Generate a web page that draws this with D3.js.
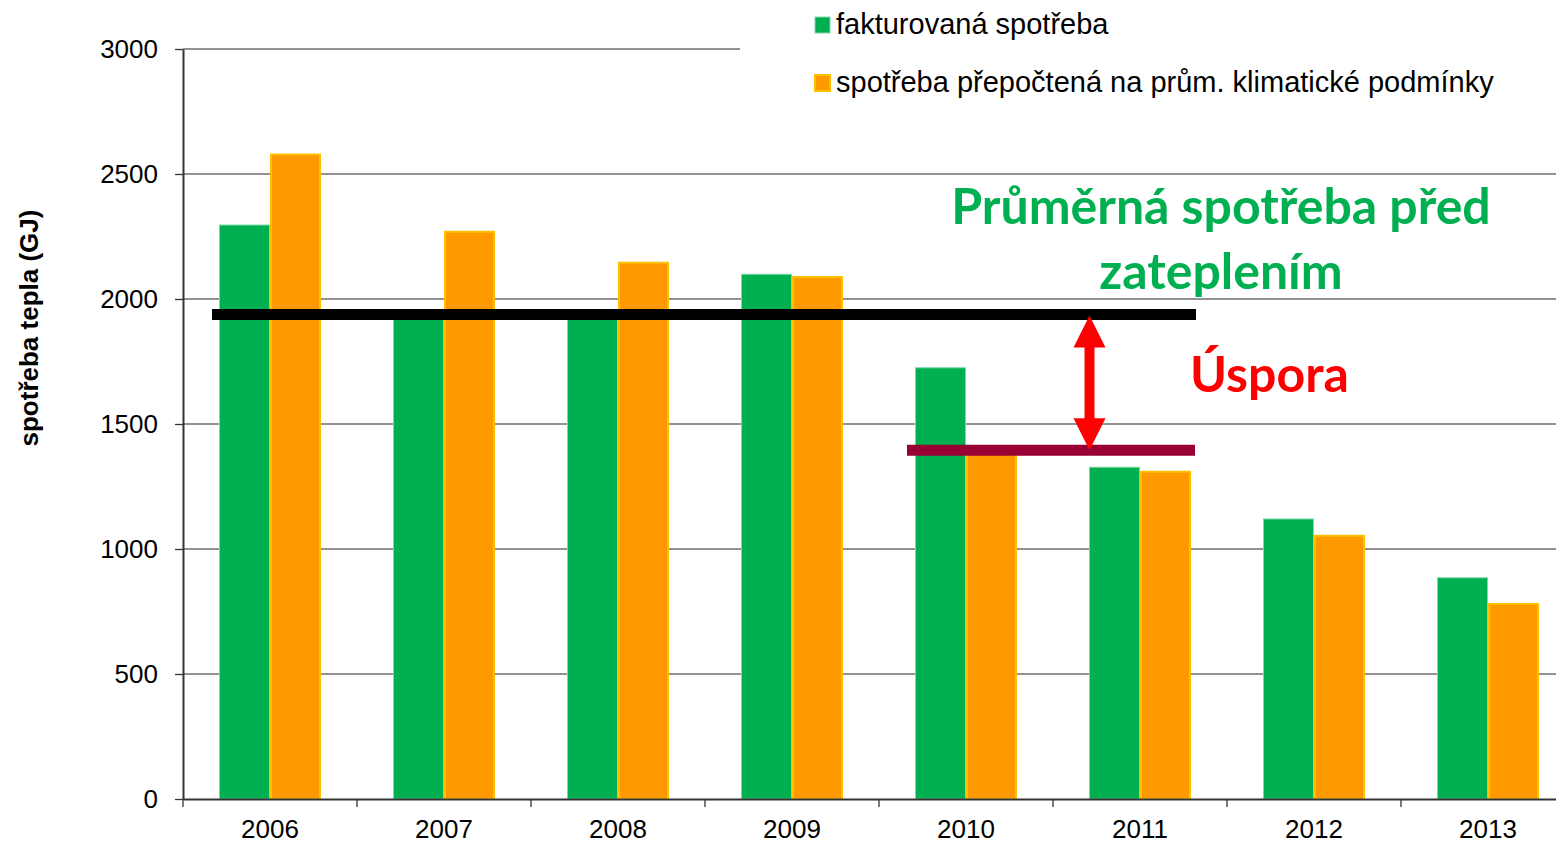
<!DOCTYPE html>
<html>
<head>
<meta charset="utf-8">
<script src="https://cdn.jsdelivr.net/npm/d3@7"></script>
<style>
  body { margin: 0; background: #fff; }
  svg { display: block; font-family: "Liberation Sans", Arial, sans-serif; }
</style>
</head>
<body>
<div id="chart"></div>
<script>
const years = ["2006", "2007", "2008", "2009", "2010", "2011", "2012", "2013"];
const billed = [2296, 1950, 1945, 2099, 1725, 1327, 1120, 885];
const normalized = [2578, 2269, 2145, 2088, 1385, 1309, 1053, 780];
const seriesNames = ["fakturovaná spotřeba", "spotřeba přepočtená na prům. klimatické podmínky"];
const yTicks = [0, 500, 1000, 1500, 2000, 2500, 3000];
const avgBefore = 1938;
const avgAfter = 1395;

const width = 1556, height = 843;
const plotLeft = 183, plotRight = 1575, plotTop = 49, plotBottom = 799;
const axisFont = "Liberation Sans, Arial, sans-serif";

const svg = d3.select("#chart").append("svg")
  .attr("width", width)
  .attr("height", height);

const x = d3.scaleBand().domain(years).range([plotLeft, plotRight]).padding(0);
const sub = d3.scaleBand().domain([0, 1]).range([0, x.bandwidth()])
  .paddingInner(0).paddingOuter(0.706);
const y = d3.scaleLinear().domain([0, 3000]).range([plotBottom, plotTop]);

const fills = ["#00B050", "#FF9900"];
const strokes = ["#7fd8a7", "#FFC000"];

// gridlines
svg.append("g")
  .selectAll("line")
  .data(yTicks.filter(d => d > 0))
  .enter().append("line")
  .attr("x1", plotLeft)
  .attr("x2", width)
  .attr("y1", d => y(d))
  .attr("y2", d => y(d))
  .attr("stroke", "#6e6e6e")
  .attr("stroke-width", 1.3);

// legend backdrop hides the top gridline like in the original
svg.append("rect")
  .attr("x", 740).attr("y", 0)
  .attr("width", width - 740).attr("height", 110)
  .attr("fill", "#fff");

// bars
const rows = years.map((yr, i) => ({ year: yr, values: [billed[i], normalized[i]] }));
const groups = svg.append("g").selectAll("g")
  .data(rows)
  .enter().append("g")
  .attr("transform", d => "translate(" + x(d.year) + ",0)");

groups.selectAll("rect")
  .data(d => d.values.map((v, k) => ({ k: k, v: v })))
  .enter().append("rect")
  .attr("x", d => sub(d.k) + (d.k === 1 ? 1 : 0.5))
  .attr("y", d => y(d.v))
  .attr("width", d => sub.bandwidth() - (d.k === 1 ? 2 : 1))
  .attr("height", d => y(0) - y(d.v))
  .attr("fill", d => fills[d.k])
  .attr("stroke", d => strokes[d.k])
  .attr("stroke-width", d => d.k === 1 ? 2 : 1);

// y axis
const yAxis = svg.append("g")
  .attr("transform", "translate(" + plotLeft + ",0)")
  .call(d3.axisLeft(y).tickValues(yTicks).tickFormat(d3.format("d"))
    .tickSize(8).tickSizeOuter(0).tickPadding(17));
yAxis.select(".domain").attr("stroke", "#333").attr("stroke-width", 2);
yAxis.selectAll(".tick line").attr("stroke", "#333").attr("stroke-width", 1.3);
yAxis.selectAll("text").attr("font-size", 26).attr("fill", "#000")
  .attr("font-family", axisFont);

// x axis
const xAxis = svg.append("g")
  .attr("transform", "translate(0," + plotBottom + ")")
  .call(d3.axisBottom(x).tickSize(0).tickPadding(21));
xAxis.select(".domain").attr("stroke", "#333").attr("stroke-width", 2);
xAxis.selectAll("text").attr("font-size", 26).attr("fill", "#000")
  .attr("font-family", axisFont);
xAxis.selectAll(".sep")
  .data(years)
  .enter().append("line")
  .attr("class", "sep")
  .attr("x1", d => x(d)).attr("x2", d => x(d))
  .attr("y1", 0).attr("y2", 8)
  .attr("stroke", "#333").attr("stroke-width", 1.3);

// y axis title
svg.append("text")
  .attr("transform", "translate(38,328) rotate(-90)")
  .attr("text-anchor", "middle")
  .attr("font-size", 26)
  .attr("font-weight", "bold")
  .text("spotřeba tepla (GJ)");

// average lines
svg.append("line")
  .attr("x1", 212).attr("x2", 1196)
  .attr("y1", y(avgBefore)).attr("y2", y(avgBefore))
  .attr("stroke", "#000").attr("stroke-width", 11);
svg.append("line")
  .attr("x1", 907).attr("x2", 1195)
  .attr("y1", y(avgAfter)).attr("y2", y(avgAfter))
  .attr("stroke", "#990033").attr("stroke-width", 11);

// double arrow between the two averages
const ax = 1089.5;
const yTop = y(avgBefore) + 1, yBot = y(avgAfter);
const head = 32, shaft = 10;
svg.append("path")
  .attr("fill", "#FF0000")
  .attr("d", [
    "M", ax, yTop,
    "L", ax + head / 2, yTop + head,
    "L", ax + shaft / 2, yTop + head,
    "L", ax + shaft / 2, yBot - head,
    "L", ax + head / 2, yBot - head,
    "L", ax, yBot,
    "L", ax - head / 2, yBot - head,
    "L", ax - shaft / 2, yBot - head,
    "L", ax - shaft / 2, yTop + head,
    "L", ax - head / 2, yTop + head,
    "Z"
  ].join(" "));

// annotations
const note = svg.append("text")
  .attr("text-anchor", "middle")
  .attr("font-family", "Lato, 'Open Sans', sans-serif")
  .attr("font-weight", "bold")
  .attr("font-size", 50)
  .attr("fill", "#00B050");
note.append("tspan").attr("x", 1221).attr("y", 224).text("Průměrná spotřeba před");
note.append("tspan").attr("x", 1221).attr("y", 289).text("zateplením");

svg.append("text")
  .attr("x", 1190).attr("y", 392)
  .attr("font-family", "Lato, 'Open Sans', sans-serif")
  .attr("font-weight", "bold")
  .attr("font-size", 50)
  .attr("fill", "#FF0000")
  .text("Úspora");

// legend
const legend = svg.append("g");
seriesNames.forEach((name, i) => {
  const ly = 25 + i * 58;
  legend.append("rect")
    .attr("x", 815).attr("y", ly - 8)
    .attr("width", 15).attr("height", 16)
    .attr("fill", fills[i])
    .attr("stroke", strokes[i])
    .attr("stroke-width", i === 1 ? 2 : 1);
  legend.append("text")
    .attr("x", 836).attr("y", ly + 9)
    .attr("font-size", 29)
    .text(name);
});
</script>
</body>
</html>
